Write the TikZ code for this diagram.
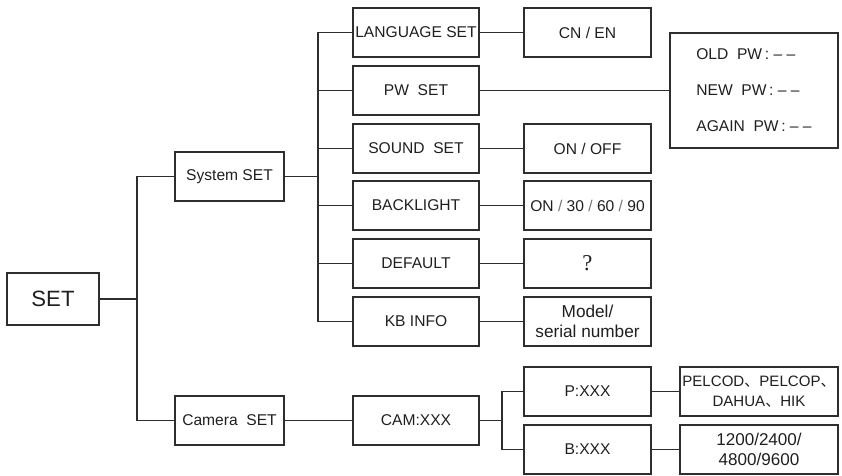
\documentclass[tikz,border=0pt]{standalone}
\usepackage{fontspec}
\setmainfont{Liberation Sans}
\newfontfamily\cjkfont{Noto Sans CJK SC}
\newfontfamily\qfont{Liberation Serif}
\definecolor{linegray}{HTML}{2E2E2E}
\tikzset{
         menu box/.style=
          {
           draw=linegray,
           line width=0.8pt,
           text=black!88,
           font=\fontsize{11.7}{15}\selectfont,
           minimum height=36.75pt,
           inner sep=1pt,
           align=center
          },
         set box/.style={menu box,minimum width=69pt,minimum height=39pt,font=\fontsize{16.6}{18}\selectfont},
         sub box/.style={menu box,minimum width=81.75pt},
         item box/.style={menu box,minimum width=94.5pt},
         value box/.style={menu box,minimum width=95.25pt},
         long box/.style={menu box,minimum width=118.5pt,font=\fontsize{11.3}{15}\selectfont},
         link/.style={draw=linegray,line width=0.8pt}
        }
\newcommand{\thinslash}{{\color{black!55}/}}
\begin{document}
\begin{tikzpicture}[x=0.75pt,y=-0.75pt]
\useasboundingbox(0,0)rectangle(842,475);
%main menu
\node[set box](set)at(53,299){SET};
\node[sub box](sys)at(229.5,176.5){System SET};
\node[sub box](camset)at(229.5,420.5){Camera~~SET};
%system items
\node[item box](lang)at(416,32.5){LANGUAGE SET};
\node[item box](pw)at(416,90.5){PW~~SET};
\node[item box](sound)at(416,148.5){SOUND~~SET};
\node[item box](back)at(416,205.5){BACKLIGHT};
\node[item box](def)at(416,263.5){DEFAULT};
\node[item box](kb)at(416,321.5){KB INFO};
\node[item box](cam)at(416,420.5){CAM:XXX};
%values
\node[value box](cnen)at(587.5,32.5){CN / EN};
\node[value box](onoff)at(587.5,148.5){ON / OFF};
\node[value box](light)at(587.5,205.5){ON~\thinslash~30~\thinslash~60~\thinslash~90};
\node[value box](quest)at(587.5,263.5){\qfont\fontsize{17}{18}\selectfont ?};
\node[value box,font=\fontsize{12.9}{15}\selectfont](model)at(587.5,321.5){Model/\\serial number};
\node[value box](proto)at(587.5,391.5){P:XXX};
\node[value box](baud)at(587.5,449.5){B:XXX};
\node[menu box,minimum width=126pt,minimum height=86.25pt,align=left,font=\fontsize{11.7}{27}\selectfont]
 (pwbox)at(754,90.5){OLD~~PW\,:~--~--\\NEW~~PW\,:~--~--\\AGAIN~~PW\,:~--~--};
\node[long box](protolist)at(759,391.5){PELCOD{\cjkfont 、}PELCOP{\cjkfont 、}\\DAHUA{\cjkfont 、}HIK};
\node[long box,font=\fontsize{12.8}{14.5}\selectfont](baudlist)at(759,449.5){1200/2400/\\4800/9600};
%junctions
\coordinate(j1)at(137,299);
\coordinate(j2)at(318,176.5);
\coordinate(j3)at(502,420.5);
%connectors
\draw[link](set)--(j1);
\draw[link](sys.west)-|(j1)|-(camset.west);
\draw[link](sys)--(j2);
\foreach \n in {lang,pw,sound,back,def,kb}
 \draw[link](j2)|-(\n.west);
\draw[link](lang)--(cnen);
\draw[link](pw)--(pwbox);
\draw[link](sound)--(onoff);
\draw[link](back)--(light);
\draw[link](def)--(quest);
\draw[link](kb)--(model);
\draw[link](camset)--(cam);
\draw[link](cam)--(j3);
\draw[link](j3)|-(proto.west);
\draw[link](j3)|-(baud.west);
\draw[link](proto)--(protolist);
\draw[link](baud)--(baudlist);
\end{tikzpicture}
\end{document}
